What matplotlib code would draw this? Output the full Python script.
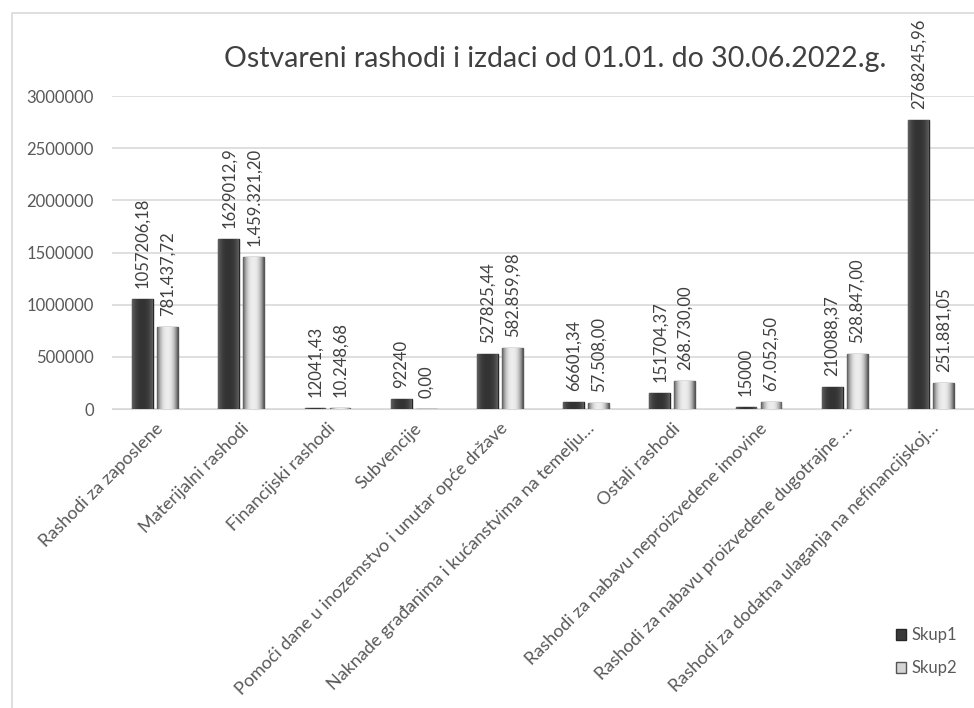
import matplotlib.pyplot as plt
import matplotlib.patches as mpatches
import numpy as np

plt.rcParams['font.family'] = ['Lato', 'DejaVu Sans']

categories = [
    'Rashodi za zaposlene',
    'Materijalni rashodi',
    'Financijski rashodi',
    'Subvencije',
    'Pomoći dane u inozemstvo i unutar opće države',
    'Naknade građanima i kućanstvima na temelju…',
    'Ostali rashodi',
    'Rashodi za nabavu neproizvedene imovine',
    'Rashodi za nabavu proizvedene dugotrajne …',
    'Rashodi za dodatna ulaganja na nefinancijskoj…',
]
skup1 = [1057206.18, 1629012.9, 12041.43, 92240, 527825.44,
         66601.34, 151704.37, 15000, 210088.37, 2768245.96]
skup2 = [781437.72, 1459321.20, 10248.68, 0.00, 582859.98,
         57508.00, 268730.00, 67052.50, 528847.00, 251881.05]


def fmt1(v):
    return str(v).replace('.', ',')


def fmt2(v):
    s = f'{v:,.2f}'
    return s.replace(',', '#').replace('.', ',').replace('#', '.')


def shade_bars(ax, bars, center, edge):
    # cylinder-like horizontal gradient inside each bar
    t = np.linspace(0, 1, 64)
    k = np.abs(2 * t - 1) ** 2.5
    c = np.array(center)
    e = np.array(edge)
    img = (c[None, :] + (e - c)[None, :] * k[:, None])[None, :, :]
    for b in bars:
        x0, y0 = b.get_x(), b.get_y()
        w, h = b.get_width(), b.get_height()
        if h <= 0:
            continue
        im = ax.imshow(img, extent=(x0, x0 + w, y0, y0 + h), aspect='auto',
                       zorder=3.5, interpolation='bilinear')
        im.set_clip_path(b)


if __name__ == '__main__':
    fig = plt.figure(figsize=(9.74, 7.08), dpi=100)
    ax = fig.add_axes([0.115, 0.4223, 0.885, 0.4421])

    # outer chart frame
    fig.patches.append(mpatches.Rectangle((12 / 974, -0.1), 1.2, 1 - 13 / 708 + 0.1,
                                          transform=fig.transFigure, fill=False,
                                          edgecolor='#d9d9d9', linewidth=1.2))

    x = np.arange(len(categories))
    w = 0.24
    off = 0.145
    b1 = ax.bar(x - off, skup1, w, color='#3a3a3a', edgecolor='#262626', linewidth=1.0, label='Skup1', zorder=3)
    b2 = ax.bar(x + off, skup2, w, color='#d4d4d4', edgecolor='#555555', linewidth=1.0, label='Skup2', zorder=3)
    shade_bars(ax, b1, (0.20, 0.20, 0.20), (0.38, 0.38, 0.38))
    shade_bars(ax, b2, (0.93, 0.93, 0.93), (0.35, 0.35, 0.35))

    for xi, v in zip(x - off, skup1):
        ax.annotate(fmt1(v), (xi, v), xytext=(0, 8), textcoords='offset points',
                    rotation=90, ha='center', va='bottom', fontsize=12, color='#404040')
    for xi, v in zip(x + off, skup2):
        ax.annotate(fmt2(v), (xi, v), xytext=(0, 8), textcoords='offset points',
                    rotation=90, ha='center', va='bottom', fontsize=12, color='#404040')

    ax.set_xlim(-0.5, len(categories) - 0.5)
    ax.set_ylim(0, 3000000)
    ax.set_yticks(np.arange(0, 3000001, 500000))
    ax.set_yticklabels([str(int(t)) for t in np.arange(0, 3000001, 500000)])
    ax.set_xticks(x)
    ax.set_xticklabels(categories, rotation=45, ha='right', rotation_mode='anchor')
    ax.tick_params(axis='both', length=0, labelsize=12, labelcolor='#595959')
    ax.tick_params(axis='x', labelsize=13, pad=8)
    ax.tick_params(axis='y', pad=13)
    ax.grid(axis='y', color='#d9d9d9', linewidth=1.2, zorder=0)
    for s in ['top', 'right', 'left']:
        ax.spines[s].set_visible(False)
    ax.spines['bottom'].set_color('#d9d9d9')

    fig.text(0.57, 0.917, 'Ostvareni rashodi i izdaci od 01.01. do 30.06.2022.g.',
             ha='center', va='center', fontsize=20.5, color='#404040')

    fig.legend(handles=[b1, b2], loc='upper left', bbox_to_anchor=(0.905, 0.135),
               frameon=False, fontsize=12, labelcolor='#595959',
               handlelength=0.6, handleheight=0.6, handletextpad=0.3, labelspacing=1.0)

    plt.savefig('out.png', dpi=100)
